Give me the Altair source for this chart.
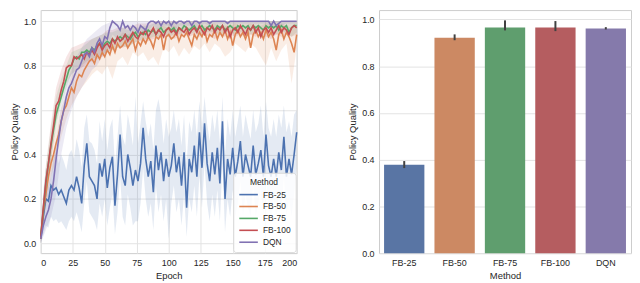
import altair as alt
import pandas as pd

methods = ["FB-25", "FB-50", "FB-75", "FB-100", "DQN"]
line_colors = ["#4C72B0", "#DD8452", "#55A868", "#C44E52", "#8172B3"]
bar_colors = ["#5975A4", "#CC8963", "#5F9E6E", "#B55D60", "#857AAB"]

epochs = list(range(0, 201, 2))
band_epochs = list(range(0, 201, 4))

fb25_mean = [
    0.02, 0.12, 0.20, 0.19, 0.26, 0.24, 0.25, 0.22, 0.24, 0.21,
    0.18, 0.24, 0.26, 0.24, 0.30, 0.25, 0.18, 0.35, 0.45, 0.30,
    0.28, 0.26, 0.20, 0.36, 0.30, 0.38, 0.25, 0.34, 0.39, 0.17,
    0.31, 0.49, 0.30, 0.26, 0.40, 0.34, 0.26, 0.33, 0.28, 0.36,
    0.52, 0.38, 0.30, 0.37, 0.23, 0.44, 0.33, 0.41, 0.28, 0.38,
    0.30, 0.35, 0.45, 0.32, 0.39, 0.26, 0.41, 0.16, 0.38, 0.32,
    0.44, 0.30, 0.50, 0.34, 0.54, 0.36, 0.28, 0.41, 0.31, 0.43,
    0.27, 0.55, 0.20, 0.38, 0.31, 0.43, 0.30, 0.37, 0.46, 0.30,
    0.40, 0.35, 0.30, 0.44, 0.31, 0.36, 0.42, 0.30, 0.49, 0.35,
    0.30, 0.38, 0.30, 0.41, 0.33, 0.48, 0.30, 0.38, 0.31, 0.40,
    0.50,
]
fb25_hi = [
    0.05, 0.24, 0.34, 0.33, 0.40, 0.38, 0.42, 0.36, 0.40, 0.37,
    0.33, 0.40, 0.42, 0.38, 0.47, 0.42, 0.34, 0.52, 0.58, 0.46,
    0.45, 0.42, 0.36, 0.55, 0.46, 0.56, 0.42, 0.52, 0.56, 0.35,
    0.48, 0.62, 0.48, 0.44, 0.58, 0.52, 0.44, 0.66, 0.45, 0.54,
    0.64, 0.55, 0.48, 0.54, 0.42, 0.60, 0.65, 0.58, 0.45, 0.56,
    0.48, 0.52, 0.60, 0.50, 0.56, 0.44, 0.58, 0.36, 0.55, 0.50,
    0.60, 0.48, 0.64, 0.52, 0.66, 0.54, 0.46, 0.58, 0.50, 0.60,
    0.45, 0.66, 0.40, 0.56, 0.48, 0.60, 0.48, 0.55, 0.62, 0.48,
    0.58, 0.52, 0.47, 0.60, 0.50, 0.54, 0.62, 0.48, 0.64, 0.52,
    0.48, 0.56, 0.48, 0.58, 0.52, 0.62, 0.50, 0.55, 0.48, 0.58,
    0.60,
]
fb25_lo = [
    0.00, 0.04, 0.08, 0.07, 0.12, 0.10, 0.11, 0.09, 0.10, 0.08,
    0.06, 0.10, 0.12, 0.10, 0.14, 0.10, 0.05, 0.18, 0.28, 0.14,
    0.12, 0.10, 0.06, 0.18, 0.12, 0.20, 0.08, 0.16, 0.22, 0.04,
    0.14, 0.30, 0.12, 0.08, 0.22, 0.16, 0.08, 0.10, 0.10, 0.18,
    0.34, 0.20, 0.12, 0.18, 0.06, 0.26, 0.14, 0.22, 0.10, 0.20,
    0.02, 0.18, 0.26, 0.14, 0.20, 0.08, 0.22, 0.03, 0.20, 0.14,
    0.26, 0.12, 0.30, 0.16, 0.36, 0.18, 0.10, 0.22, 0.12, 0.24,
    0.10, 0.36, 0.05, 0.20, 0.12, 0.24, 0.12, 0.18, 0.28, 0.12,
    0.22, 0.16, 0.12, 0.26, 0.12, 0.18, 0.24, 0.12, 0.30, 0.16,
    0.12, 0.20, 0.12, 0.22, 0.14, 0.30, 0.12, 0.20, 0.12, 0.22,
    0.34,
]

fb50_mean = [
    0.02, 0.14, 0.22, 0.30, 0.36, 0.40, 0.45, 0.49, 0.55, 0.60,
    0.62, 0.66, 0.70, 0.68, 0.73, 0.76, 0.75, 0.78, 0.80, 0.82,
    0.83, 0.81, 0.85, 0.83, 0.86, 0.84, 0.87, 0.85, 0.89, 0.86,
    0.90, 0.88, 0.89, 0.91, 0.88, 0.90, 0.92, 0.87, 0.91, 0.89,
    0.92, 0.90, 0.93, 0.91, 0.88, 0.93, 0.92, 0.94, 0.87, 0.93,
    0.94, 0.92, 0.93, 0.95, 0.91, 0.94, 0.93, 0.95, 0.92, 0.89,
    0.94, 0.92, 0.95, 0.93, 0.96, 0.91, 0.94, 0.93, 0.96, 0.92,
    0.95, 0.93, 0.96, 0.92, 0.95, 0.89, 0.94, 0.96, 0.93, 0.95,
    0.92, 0.95, 0.88, 0.94, 0.96, 0.93, 0.95, 0.92, 0.96, 0.93,
    0.95, 0.92, 0.87, 0.94, 0.96, 0.92, 0.95, 0.93, 0.90, 0.86,
    0.94,
]
fb50_lo = [
    0.00, 0.16, 0.30, 0.38, 0.48, 0.56, 0.62, 0.66, 0.70, 0.73,
    0.76, 0.78, 0.76, 0.80, 0.74, 0.82, 0.84, 0.80, 0.86, 0.84,
    0.86, 0.82, 0.84, 0.80, 0.88, 0.86, 0.89, 0.84, 0.88, 0.85,
    0.89, 0.87, 0.90, 0.86, 0.90, 0.88, 0.84, 0.86, 0.90, 0.88,
    0.86, 0.90, 0.88, 0.84, 0.80, 0.88, 0.82, 0.87, 0.90, 0.72,
    0.88,
]
fb50_hi = [
    0.05, 0.28, 0.43, 0.52, 0.61, 0.67, 0.76, 0.77, 0.81, 0.85,
    0.87, 0.88, 0.89, 0.90, 0.91, 0.92, 0.95, 0.94, 0.95, 0.95,
    0.96, 0.96, 0.97, 0.97, 0.98, 0.97, 0.98, 0.97, 0.98, 0.97,
    0.98, 0.98, 0.98, 0.98, 0.99, 0.98, 0.98, 0.98, 0.99, 0.98,
    0.98, 0.99, 0.98, 0.98, 0.99, 0.98, 0.98, 0.99, 0.98, 0.97,
    0.98,
]

fb75_mean = [
    0.03, 0.15, 0.27, 0.36, 0.44, 0.51, 0.58, 0.62, 0.66, 0.70,
    0.74, 0.78, 0.80, 0.83, 0.84, 0.83, 0.86, 0.86, 0.87, 0.86,
    0.88, 0.87, 0.89, 0.90, 0.88, 0.90, 0.91, 0.90, 0.92, 0.91,
    0.92, 0.93, 0.92, 0.94, 0.93, 0.92, 0.94, 0.95, 0.93, 0.94,
    0.95, 0.94, 0.96, 0.95, 0.96, 0.94, 0.96, 0.97, 0.95, 0.96,
    0.97, 0.96, 0.97, 0.95, 0.97, 0.96, 0.98, 0.97, 0.96, 0.97,
    0.98, 0.96, 0.97, 0.98, 0.96, 0.97, 0.98, 0.97, 0.96, 0.98,
    0.97, 0.98, 0.96, 0.97, 0.98, 0.97, 0.96, 0.98, 0.97, 0.98,
    0.97, 0.98, 0.96, 0.98, 0.97, 0.98, 0.97, 0.96, 0.98, 0.97,
    0.98, 0.97, 0.98, 0.96, 0.98, 0.97, 0.98, 0.95, 0.97, 0.98,
    0.98,
]
fb75_lo = [
    0.00, 0.20, 0.38, 0.52, 0.62, 0.70, 0.76, 0.78, 0.80, 0.82,
    0.83, 0.84, 0.85, 0.86, 0.87, 0.88, 0.89, 0.88, 0.90, 0.91,
    0.92, 0.92, 0.93, 0.93, 0.94, 0.93, 0.94, 0.94, 0.95, 0.94,
    0.95, 0.94, 0.95, 0.95, 0.95, 0.94, 0.95, 0.95, 0.94, 0.95,
    0.95, 0.94, 0.95, 0.95, 0.95, 0.95, 0.94, 0.95, 0.95, 0.93,
    0.95,
]
fb75_hi = [
    0.06, 0.34, 0.52, 0.66, 0.74, 0.80, 0.86, 0.87, 0.88, 0.90,
    0.92, 0.93, 0.94, 0.95, 0.95, 0.96, 0.97, 0.96, 0.97, 0.97,
    0.98, 0.98, 0.99, 0.99, 0.99, 0.99, 1.00, 0.99, 1.00, 1.00,
    1.00, 1.00, 1.00, 1.00, 1.00, 1.00, 1.00, 1.00, 1.00, 1.00,
    1.00, 1.00, 1.00, 1.00, 1.00, 1.00, 1.00, 1.00, 1.00, 1.00,
    1.00,
]

fb100_mean = [
    0.03, 0.16, 0.28, 0.36, 0.45, 0.53, 0.62, 0.64, 0.69, 0.73,
    0.79, 0.80, 0.80, 0.84, 0.83, 0.84, 0.85, 0.83, 0.86, 0.85,
    0.87, 0.85, 0.88, 0.90, 0.87, 0.89, 0.90, 0.88, 0.92, 0.90,
    0.93, 0.91, 0.92, 0.94, 0.91, 0.93, 0.95, 0.93, 0.92, 0.95,
    0.94, 0.96, 0.93, 0.95, 0.97, 0.94, 0.96, 0.95, 0.93, 0.96,
    0.97, 0.95, 0.96, 0.94, 0.97, 0.96, 0.95, 0.97, 0.94, 0.96,
    0.97, 0.95, 0.98, 0.96, 0.94, 0.97, 0.96, 0.98, 0.95, 0.97,
    0.96, 0.98, 0.95, 0.97, 0.93, 0.96, 0.97, 0.95, 0.98, 0.96,
    0.94, 0.97, 0.96, 0.98, 0.95, 0.97, 0.93, 0.96, 0.97, 0.95,
    0.97, 0.94, 0.96, 0.98, 0.95, 0.97, 0.96, 0.94, 0.97, 0.98,
    0.97,
]
fb100_lo = [
    0.00, 0.20, 0.38, 0.54, 0.64, 0.72, 0.76, 0.78, 0.79, 0.81,
    0.82, 0.83, 0.84, 0.86, 0.87, 0.88, 0.88, 0.89, 0.90, 0.91,
    0.91, 0.91, 0.92, 0.93, 0.92, 0.93, 0.92, 0.93, 0.94, 0.93,
    0.94, 0.93, 0.94, 0.93, 0.92, 0.94, 0.93, 0.94, 0.93, 0.94,
    0.93, 0.94, 0.93, 0.94, 0.93, 0.92, 0.94, 0.93, 0.94, 0.93,
    0.94,
]
fb100_hi = [
    0.06, 0.35, 0.54, 0.70, 0.78, 0.84, 0.88, 0.89, 0.90, 0.91,
    0.92, 0.93, 0.94, 0.96, 0.96, 0.97, 0.97, 0.98, 0.98, 0.99,
    0.99, 0.99, 1.00, 1.00, 1.00, 1.00, 1.00, 1.00, 1.00, 1.00,
    1.00, 1.00, 1.00, 1.00, 1.00, 1.00, 1.00, 1.00, 1.00, 1.00,
    1.00, 1.00, 1.00, 1.00, 1.00, 1.00, 1.00, 1.00, 1.00, 1.00,
    1.00,
]

dqn_mean = [
    0.02, 0.08, 0.12, 0.15, 0.20, 0.28, 0.38, 0.47, 0.55, 0.60,
    0.66, 0.70, 0.72, 0.75, 0.78, 0.79, 0.82, 0.85, 0.86, 0.84,
    0.88, 0.86, 0.90, 0.92, 0.89, 0.93, 0.92, 0.97, 1.00, 0.99,
    0.98, 0.96, 1.00, 0.97, 0.98, 0.96, 0.98, 0.97, 0.95, 0.98,
    0.97, 0.96, 0.99, 1.00, 1.00, 0.99, 1.00, 0.98, 1.00, 0.99,
    1.00, 0.98, 1.00, 0.99, 1.00, 1.00, 0.99, 1.00, 1.00, 0.98,
    1.00, 1.00, 0.99, 1.00, 1.00, 1.00, 0.99, 1.00, 1.00, 1.00,
    1.00, 1.00, 1.00, 0.99, 1.00, 1.00, 1.00, 1.00, 1.00, 1.00,
    1.00, 1.00, 1.00, 1.00, 1.00, 1.00, 1.00, 1.00, 1.00, 1.00,
    0.98, 1.00, 0.98, 0.99, 1.00, 1.00, 1.00, 1.00, 1.00, 1.00,
    1.00,
]
dqn_lo = [
    0.00, 0.06, 0.12, 0.22, 0.40, 0.52, 0.60, 0.66, 0.70, 0.74,
    0.78, 0.80, 0.84, 0.86, 0.94, 0.92, 0.92, 0.90, 0.92, 0.96,
    0.94, 0.96, 0.98, 0.96, 0.98, 0.98, 0.96, 0.98, 0.98, 0.98,
    0.98, 0.98, 0.99, 0.98, 0.99, 0.99, 0.99, 0.99, 0.99, 0.99,
    0.99, 0.99, 0.99, 0.99, 0.99, 0.98, 0.97, 0.98, 0.99, 0.99,
    0.99,
]
dqn_hi = [
    0.05, 0.22, 0.30, 0.46, 0.62, 0.72, 0.78, 0.84, 0.88, 0.92,
    0.94, 0.96, 0.98, 0.99, 1.00, 1.00, 1.00, 1.00, 1.00, 1.00,
    1.00, 1.00, 1.00, 1.00, 1.00, 1.00, 1.00, 1.00, 1.00, 1.00,
    1.00, 1.00, 1.00, 1.00, 1.00, 1.00, 1.00, 1.00, 1.00, 1.00,
    1.00, 1.00, 1.00, 1.00, 1.00, 1.00, 1.00, 1.00, 1.00, 1.00,
    1.00,
]

bar_mean = [0.378, 0.922, 0.966, 0.966, 0.961]
bar_lo = [0.364, 0.911, 0.953, 0.950, 0.957]
bar_hi = [0.394, 0.936, 0.996, 0.993, 0.967]

y_ticks = [0.0, 0.2, 0.4, 0.6, 0.8, 1.0]
x_ticks = [0, 25, 50, 75, 100, 125, 150, 175, 200]

means = [fb25_mean, fb50_mean, fb75_mean, fb100_mean, dqn_mean]
bands = [
    (epochs, fb25_lo, fb25_hi),
    (band_epochs, fb50_lo, fb50_hi),
    (band_epochs, fb75_lo, fb75_hi),
    (band_epochs, fb100_lo, fb100_hi),
    (band_epochs, dqn_lo, dqn_hi),
]

line_rows = []
for i, (m, arr) in enumerate(zip(methods, means)):
    for e, v in zip(epochs, arr):
        line_rows.append({"epoch": e, "value": v, "method": m})
line_df = pd.DataFrame(line_rows)

band_rows = []
for i, (m, (xs, lo, hi)) in enumerate(zip(methods, bands)):
    for e, a, b in zip(xs, lo, hi):
        band_rows.append({"epoch": e, "lo": a, "hi": b, "method": m,
                          "col": line_colors[i]})
band_df = pd.DataFrame(band_rows)

bar_df = pd.DataFrame({"method": methods, "mean": bar_mean, "lo": bar_lo,
                       "hi": bar_hi, "col": bar_colors})

FONT = "Liberation Sans"
W1, W2, H = 258, 254, 245

x_scale = alt.Scale(domain=[0, 200], nice=False)
y_scale = alt.Scale(domain=[-0.044, 1.05], nice=False, zero=False)
x_axis = alt.Axis(values=x_ticks, title="Epoch", labelOverlap=False)
y_axis = alt.Axis(values=y_ticks, format=".1f", title="Policy Quality")

band = alt.Chart(band_df).mark_area(opacity=0.15).encode(
    x=alt.X("epoch:Q", scale=x_scale, axis=x_axis),
    y=alt.Y("lo:Q", scale=y_scale, axis=y_axis),
    y2="hi:Q",
    fill=alt.Fill("col:N", scale=None),
    detail="method:N",
)

line = alt.Chart(line_df).mark_line(strokeWidth=1.6).encode(
    x=alt.X("epoch:Q", scale=x_scale, axis=x_axis),
    y=alt.Y("value:Q", scale=y_scale, axis=y_axis),
    color=alt.Color(
        "method:N",
        scale=alt.Scale(domain=methods, range=line_colors),
        sort=methods,
        legend=alt.Legend(
            title="Method", orient="none", legendX=W1 - 64, legendY=H - 81,
            fillColor="rgba(255,255,255,0.85)", strokeColor="#d9d9d9",
            cornerRadius=3, padding=5, symbolType="M-1.7,0H1.7", symbolSize=121,
            symbolStrokeWidth=1.6, labelFontSize=8.5, titleFontSize=8.5,
            titleFontWeight="normal", rowPadding=1, titleAnchor="middle",
            titlePadding=2, labelFont=FONT, titleFont=FONT, labelOffset=8,
            labelColor="#262626", titleColor="#262626", symbolOffset=4,
        ),
    ),
)

left = alt.layer(band, line).properties(width=W1, height=H)

xb = alt.X("method:N", sort=methods,
           scale=alt.Scale(paddingInner=0.2, paddingOuter=0.1),
           axis=alt.Axis(labelAngle=0, title="Method", grid=False))

bars = alt.Chart(bar_df).mark_bar().encode(
    x=xb,
    y=alt.Y("mean:Q", scale=alt.Scale(domain=[0, 1.04], nice=False),
            axis=alt.Axis(values=y_ticks, format=".1f", title="Policy Quality")),
    fill=alt.Fill("col:N", scale=None),
)
err = alt.Chart(bar_df).mark_rule(color="#424242", strokeWidth=2).encode(
    x=xb,
    y="lo:Q",
    y2="hi:Q",
)
right = alt.layer(bars, err).properties(width=W2, height=H)

chart = alt.hconcat(left, right, spacing=46).properties(
    padding=0
).configure_view(
    stroke="#cccccc", strokeWidth=1
).configure_axis(
    domain=False, ticks=False, gridColor="#e3e3e3", gridWidth=1,
    labelFont=FONT, titleFont=FONT, labelFontSize=9, titleFontSize=9.5,
    titleFontWeight="normal", labelColor="#262626", titleColor="#262626",
    labelPadding=5, titlePadding=4,
)

chart.save("out.html", embed_options={"renderer": "svg", "actions": False})
